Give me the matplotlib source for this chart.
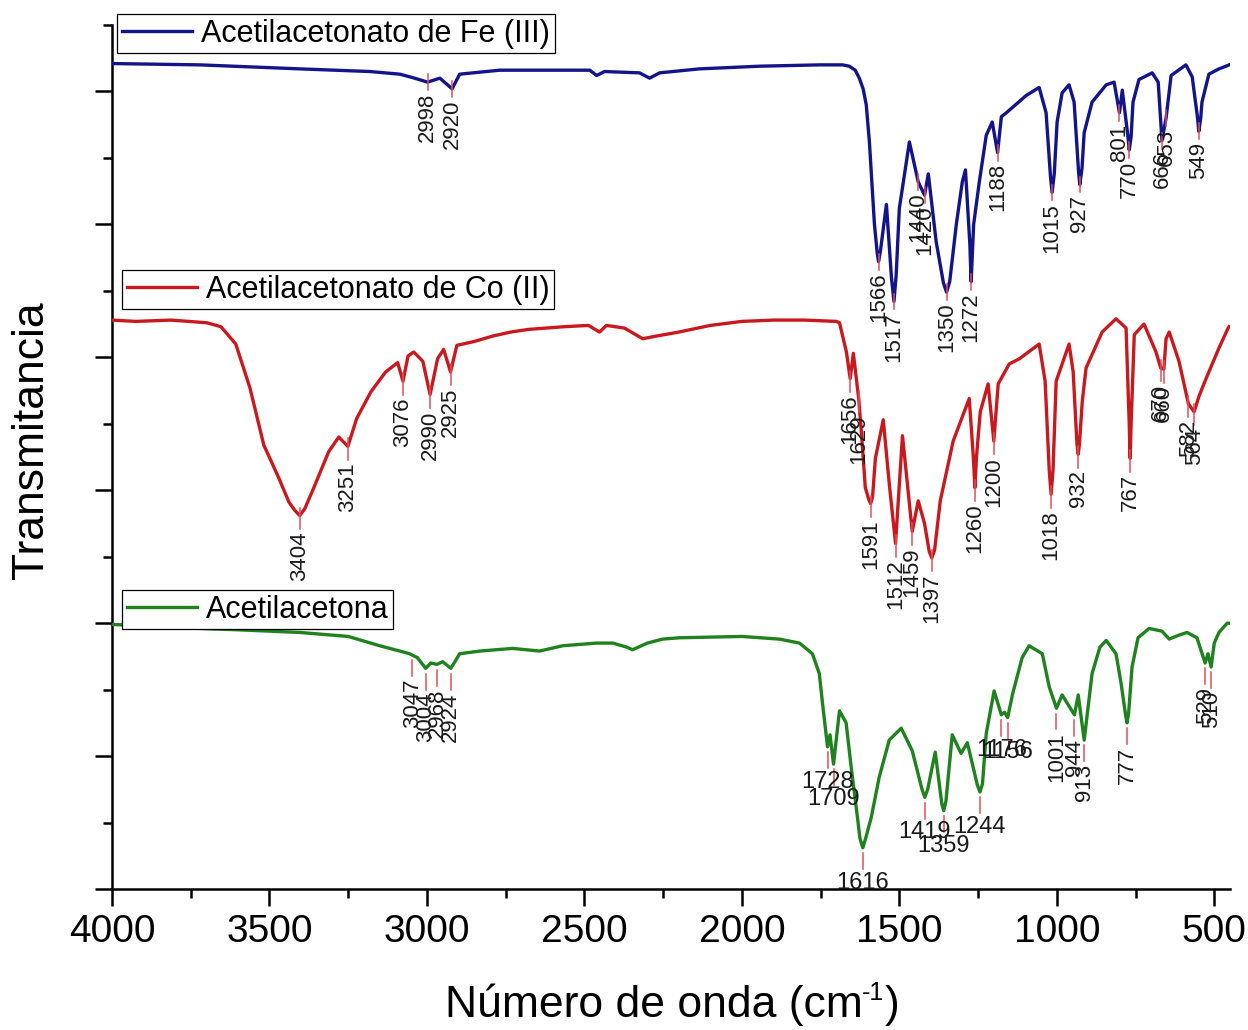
import numpy as np
import matplotlib
matplotlib.use("Agg")
import matplotlib.pyplot as plt
from matplotlib.legend import Legend
from matplotlib.ticker import MultipleLocator

plt.rcParams['font.family'] = ['Liberation Sans', 'DejaVu Sans']

# --- espectros IR (número de onda en cm-1, transmitancia desplazada) ---
fe_wn = [4000, 3721, 3404, 3181, 3086, 3039, 2998, 2959, 2920, 2896, 2769, 2579,
         2483, 2461, 2436, 2325, 2293, 2261, 2135, 1944, 1754, 1680, 1659, 1640,
         1627, 1615, 1605, 1595, 1579, 1570, 1566, 1560, 1541, 1525, 1517, 1510,
         1500, 1468, 1440, 1420, 1408, 1383, 1360, 1350, 1340, 1319, 1300, 1290,
         1276, 1272, 1264, 1246, 1224, 1205, 1188, 1176, 1160, 1097, 1056, 1034,
         1020, 1015, 1008, 999, 983, 961, 945, 931, 927, 920, 913, 888, 843, 818,
         801, 792, 774, 770, 764, 758, 739, 697, 678, 666, 653, 637, 590, 570,
         553, 549, 543, 539, 517, 485, 463, 453]
fe_t = [6.21, 6.20, 6.17, 6.15, 6.13, 6.10, 6.07, 6.10, 6.02, 6.13, 6.16, 6.16,
        6.16, 6.12, 6.15, 6.14, 6.10, 6.14, 6.17, 6.19, 6.20, 6.20, 6.19, 6.16,
        6.10, 6.02, 5.90, 5.62, 5.00, 4.78, 4.72, 4.80, 5.15, 4.60, 4.42, 4.62,
        5.12, 5.62, 5.32, 5.22, 5.38, 4.87, 4.56, 4.49, 4.57, 5.00, 5.32, 5.41,
        4.85, 4.57, 5.00, 5.32, 5.67, 5.77, 5.54, 5.81, 5.84, 5.97, 6.03, 5.84,
        5.36, 5.24, 5.38, 5.77, 5.99, 6.05, 5.92, 5.40, 5.30, 5.42, 5.69, 5.92,
        6.05, 6.07, 5.84, 6.01, 5.66, 5.56, 5.66, 5.92, 6.09, 6.14, 6.07, 5.63,
        5.80, 6.12, 6.20, 6.11, 5.80, 5.70, 5.80, 5.92, 6.13, 6.17, 6.19, 6.20]
fe_peaks = [2998, 2920, 1566, 1517, 1440, 1420, 1350, 1272, 1188, 1015, 927,
            801, 770, 666, 653, 549]

co_wn = [4000, 3924, 3813, 3699, 3654, 3607, 3562, 3518, 3470, 3438, 3420, 3404,
         3388, 3359, 3312, 3280, 3251, 3223, 3178, 3131, 3093, 3076, 3060, 3042,
         3013, 2990, 2966, 2947, 2925, 2905, 2848, 2791, 2734, 2677, 2566, 2487,
         2452, 2430, 2373, 2315, 2271, 2200, 2100, 2000, 1900, 1800, 1700, 1690,
         1668, 1656, 1646, 1629, 1620, 1608, 1597, 1591, 1585, 1576, 1551, 1532,
         1512, 1490, 1459, 1440, 1420, 1405, 1397, 1388, 1370, 1329, 1278, 1265,
         1260, 1255, 1243, 1218, 1200, 1186, 1151, 1118, 1056, 1037, 1024, 1018,
         1012, 1002, 961, 948, 936, 932, 928, 919, 907, 856, 812, 780, 770, 767,
         764, 754, 723, 685, 670, 660, 653, 643, 612, 582, 564, 548, 526, 485,
         456, 453]
co_t = [4.28, 4.27, 4.28, 4.26, 4.23, 4.10, 3.77, 3.34, 3.09, 2.91, 2.85, 2.81,
        2.86, 3.02, 3.29, 3.40, 3.33, 3.54, 3.74, 3.89, 3.96, 3.82, 4.01, 4.04,
        3.97, 3.72, 3.99, 4.06, 3.89, 4.09, 4.12, 4.16, 4.19, 4.21, 4.23, 4.24,
        4.19, 4.24, 4.22, 4.14, 4.16, 4.19, 4.24, 4.27, 4.28, 4.28, 4.27, 4.26,
        4.04, 3.84, 4.03, 3.69, 3.42, 3.02, 2.93, 2.90, 2.95, 3.24, 3.53, 3.05,
        2.60, 3.41, 2.69, 2.92, 2.75, 2.54, 2.49, 2.55, 2.92, 3.37, 3.69, 3.25,
        3.02, 3.25, 3.59, 3.80, 3.37, 3.80, 3.95, 3.99, 4.10, 3.82, 3.15, 2.97,
        3.15, 3.82, 4.10, 3.89, 3.35, 3.27, 3.35, 3.67, 3.92, 4.19, 4.29, 4.22,
        3.50, 3.24, 3.50, 4.17, 4.25, 4.04, 3.92, 3.91, 4.14, 4.19, 3.97, 3.65,
        3.59, 3.71, 3.84, 4.07, 4.22, 4.23]
co_peaks = [3404, 3251, 3076, 2990, 2925, 1656, 1629, 1591, 1512, 1459, 1397,
            1260, 1200, 1018, 932, 767, 670, 660, 582, 564]

ac_wn = [4000, 3880, 3721, 3600, 3404, 3250, 3150, 3086, 3055, 3047, 3030, 3004,
         2988, 2968, 2950, 2924, 2896, 2832, 2728, 2642, 2569, 2461, 2410, 2366,
         2347, 2300, 2252, 2198, 2000, 1881, 1817, 1776, 1754, 1745, 1728, 1720,
         1709, 1690, 1669, 1653, 1633, 1625, 1616, 1607, 1589, 1564, 1532, 1494,
         1459, 1428, 1419, 1410, 1386, 1365, 1359, 1352, 1332, 1304, 1284, 1252,
         1244, 1236, 1224, 1199, 1176, 1166, 1156, 1140, 1110, 1088, 1046, 1024,
         1001, 983, 944, 932, 913, 888, 863, 843, 812, 796, 781, 777, 772, 761,
         742, 707, 666, 643, 612, 586, 555, 529, 520, 510, 500, 485, 459, 453]
ac_t = [1.99, 1.98, 1.96, 1.95, 1.93, 1.90, 1.83, 1.79, 1.77, 1.76, 1.74, 1.66,
        1.70, 1.69, 1.71, 1.66, 1.77, 1.79, 1.81, 1.79, 1.83, 1.85, 1.85, 1.82,
        1.80, 1.85, 1.88, 1.89, 1.90, 1.88, 1.85, 1.77, 1.62, 1.42, 1.07, 1.16,
        0.94, 1.34, 1.25, 0.92, 0.54, 0.38, 0.31, 0.38, 0.54, 0.84, 1.12, 1.21,
        1.04, 0.75, 0.69, 0.75, 1.03, 0.64, 0.59, 0.66, 1.16, 1.02, 1.10, 0.78,
        0.73, 0.79, 1.17, 1.49, 1.31, 1.33, 1.29, 1.47, 1.74, 1.83, 1.77, 1.52,
        1.36, 1.46, 1.31, 1.46, 1.12, 1.62, 1.82, 1.87, 1.77, 1.55, 1.30, 1.25,
        1.32, 1.67, 1.89, 1.96, 1.94, 1.88, 1.91, 1.93, 1.89, 1.70, 1.77, 1.67,
        1.85, 1.93, 2.00, 2.00]
ac_peaks = [3047, 3004, 2968, 2924, 1728, 1709, 1616, 1419, 1359, 1244, 1176,
            1156, 1001, 944, 913, 777, 529, 510]
ac_flat = [1728, 1709, 1616, 1419, 1359, 1244, 1176, 1156]

names = ['Acetilacetonato de Fe (III)', 'Acetilacetonato de Co (II)', 'Acetilacetona']
colors = ['#14148a', '#c81a1e', '#1f821f']
MARK = '#e0505c'


def label_peaks(ax, wn, t, peaks, top, bottom, flat=()):
    """Marca cada pico con un trazo rojo y su número de onda."""
    x = np.array(wn[::-1], dtype=float)
    y = np.array(t[::-1], dtype=float)
    for p in peaks:
        yp = np.interp(p, x, y)
        ax.plot([p, p], [yp + top, yp + bottom], color=MARK, lw=1.1, zorder=4)
        if p in flat:
            rot, fs = 0, 17
        else:
            rot, fs = 90, 16
        ax.text(p, yp + bottom - 0.02, str(p), rotation=rot, ha='center', va='top',
                fontsize=fs, color='#1a1a1a', zorder=7)


fig = plt.figure(figsize=(12.48, 10.30), dpi=100)
ax = fig.add_axes([112 / 1248, 1 - 889 / 1030, 1118 / 1248, 864 / 1030])

lines = []
for wn, t, c in zip([fe_wn, co_wn, ac_wn], [fe_t, co_t, ac_t], colors):
    ln, = ax.plot(wn, t, color=c, lw=2.4, solid_joinstyle='round', zorder=3)
    lines.append(ln)

label_peaks(ax, fe_wn, fe_t, fe_peaks, 0.06, -0.06)
label_peaks(ax, co_wn, co_t, co_peaks, 0.06, -0.10)
label_peaks(ax, ac_wn, ac_t, ac_peaks, -0.04, -0.16, flat=ac_flat)

ax.set_xlim(4000, 450)
ax.set_ylim(0, 6.5)
ax.xaxis.set_major_locator(MultipleLocator(500))
ax.xaxis.set_minor_locator(MultipleLocator(250))
ax.yaxis.set_major_locator(MultipleLocator(1))
ax.yaxis.set_minor_locator(MultipleLocator(0.5))
ax.set_yticklabels([])
ax.tick_params(which='both', direction='out', width=1.8, labelsize=28)
ax.tick_params(which='major', length=12, pad=6)
ax.tick_params(which='minor', length=6.5)
for side in ['top', 'right']:
    ax.spines[side].set_visible(False)
for side in ['left', 'bottom']:
    ax.spines[side].set_linewidth(1.8)

# leyendas, una por espectro
anchors = [(0.0045, 1.0127), (0.0089, 0.7164), (0.0089, 0.346)]
for ln, name, anc in zip(lines, names, anchors):
    leg = Legend(ax, [ln], [name], loc='upper left', bbox_to_anchor=anc,
                 fontsize=22, frameon=True, fancybox=False, borderpad=0.15,
                 handlelength=2.3, handletextpad=0.3, borderaxespad=0)
    leg.get_frame().set_edgecolor('black')
    leg.get_frame().set_linewidth(0.9)
    leg.get_frame().set_alpha(1)
    leg.set_zorder(5)
    ax.add_artist(leg)

fig.text(32 / 1248, 1 - 440 / 1030, 'Transmitancia', rotation=90,
         ha='center', va='center', fontsize=32)

# título del eje x con el superíndice -1 en texto normal
renderer = fig.canvas.get_renderer()
parts = [('Número de onda (cm', 32, 0), ('-1', 18, 17), (')', 32, 0)]
texts = [fig.text(0, 0, s, fontsize=fs, ha='left', va='baseline') for s, fs, _ in parts]
widths = [t.get_window_extent(renderer).width for t in texts]
x0 = 672 - sum(widths) / 2
base = 1030 - 1017
for t, w, (_, _, rise) in zip(texts, widths, parts):
    t.set_position((x0 / 1248, (base + rise) / 1030))
    x0 += w

fig.savefig('out.png', dpi=100)
